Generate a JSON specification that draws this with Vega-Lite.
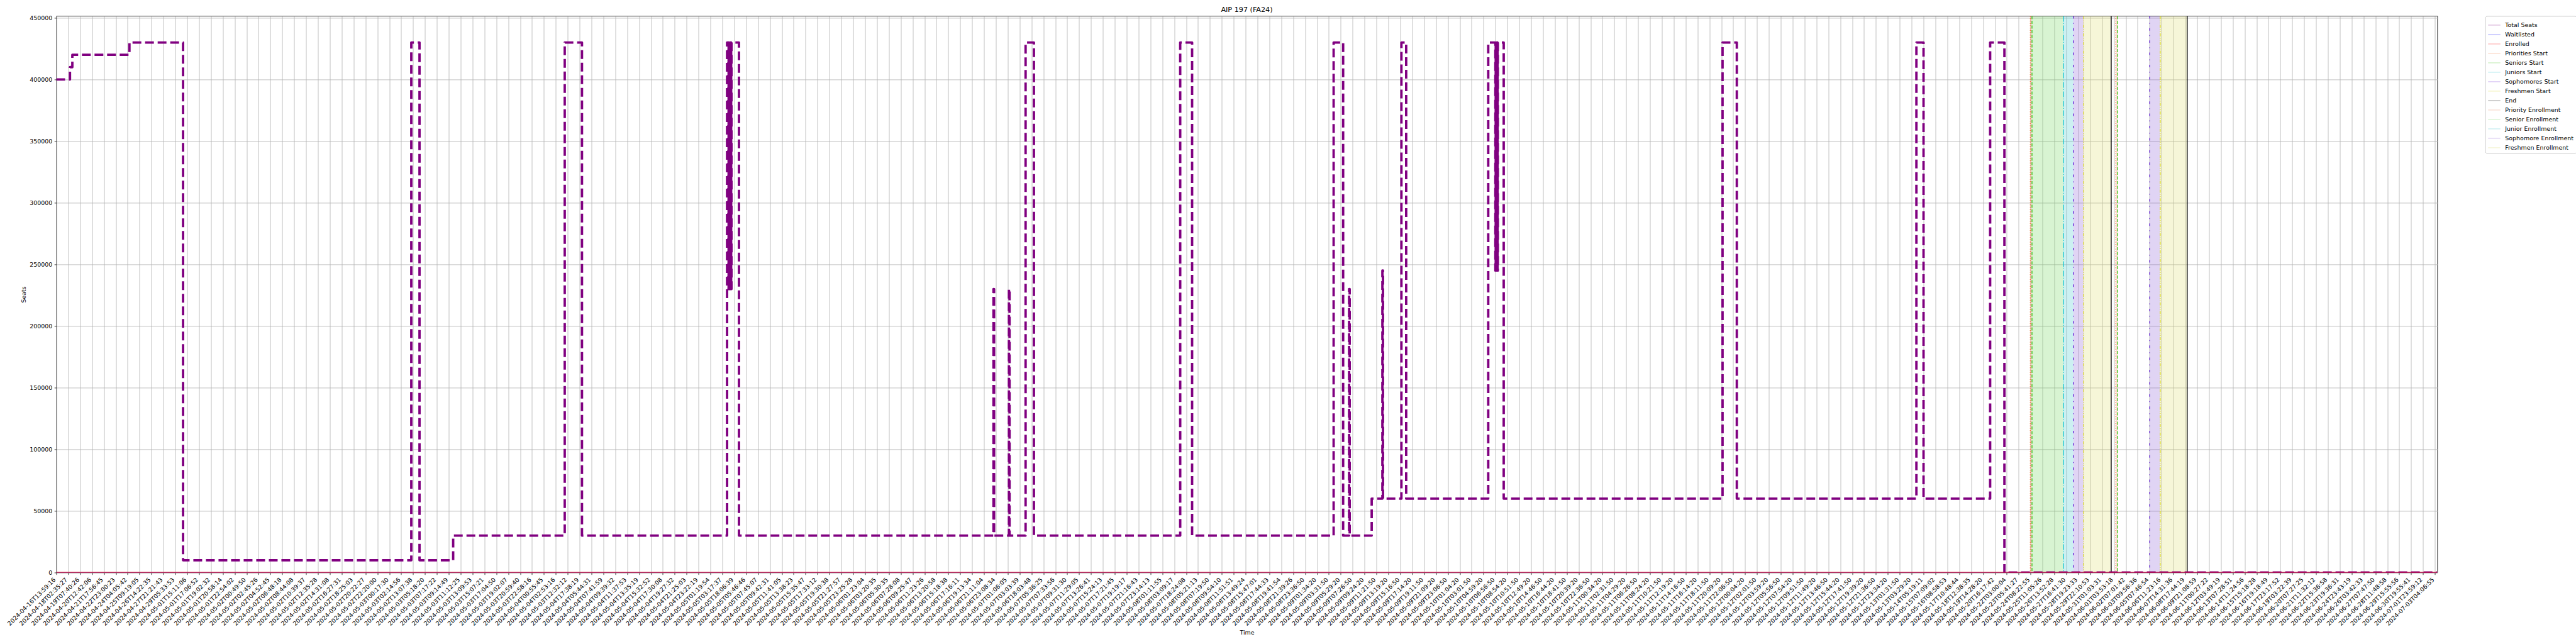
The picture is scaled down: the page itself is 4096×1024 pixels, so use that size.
{
  "$schema": "https://vega.github.io/schema/vega-lite/v6.json",
  "autosize": {"type": "none"},
  "width": 3786,
  "height": 885,
  "padding": {"left": 89.5, "top": 25.4, "right": 220.5, "bottom": 113.6},
  "background": "white",
  "title": {"text": "AIP 197 (FA24)", "fontSize": 11.2, "font": "DejaVu Sans", "fontWeight": "normal", "color": "black", "frame": "group", "anchor": "middle", "baseline": "alphabetic", "offset": -7},
  "config": {
    "font": "DejaVu Sans",
    "view": {"stroke": "black", "strokeWidth": 0.8},
    "axis": {"labelFont": "DejaVu Sans", "titleFont": "DejaVu Sans", "labelColor": "black", "titleColor": "black", "labelFontSize": 9.47, "titleFontSize": 9.47, "titleFontWeight": "normal", "tickColor": "black", "tickSize": 3.3, "tickWidth": 0.75, "domain": false, "grid": true, "gridColor": "#b0b0b0", "gridWidth": 0.8}
  },
  "datasets": {
    "seats": [
      {"i": 0, "seats": 400000}, {"i": 1.15, "seats": 410000}, {"i": 1.35, "seats": 420000}, {"i": 6.15, "seats": 430000},
      {"i": 10.66, "seats": 10000}, {"i": 29.85, "seats": 430000}, {"i": 30.54, "seats": 10000}, {"i": 33.37, "seats": 30000},
      {"i": 42.75, "seats": 430000}, {"i": 44.2, "seats": 30000},
      {"i": 56.4, "seats": 430000}, {"i": 56.5, "seats": 230000}, {"i": 56.53, "seats": 430000}, {"i": 56.56, "seats": 230000}, {"i": 56.59, "seats": 430000}, {"i": 56.62, "seats": 230000}, {"i": 56.65, "seats": 430000}, {"i": 56.68, "seats": 230000}, {"i": 56.71, "seats": 430000}, {"i": 56.74, "seats": 230000}, {"i": 56.77, "seats": 430000},
      {"i": 57.4, "seats": 30000},
      {"i": 78.8, "seats": 230000}, {"i": 78.85, "seats": 30000}, {"i": 80.1, "seats": 230000}, {"i": 80.15, "seats": 30000},
      {"i": 81.5, "seats": 430000}, {"i": 82.2, "seats": 30000}, {"i": 94.5, "seats": 430000}, {"i": 95.5, "seats": 30000},
      {"i": 107.4, "seats": 430000}, {"i": 108.2, "seats": 30000}, {"i": 108.7, "seats": 230000}, {"i": 108.75, "seats": 30000},
      {"i": 110.6, "seats": 60000}, {"i": 111.5, "seats": 245000}, {"i": 111.55, "seats": 60000}, {"i": 113.1, "seats": 430000},
      {"i": 113.5, "seats": 60000},
      {"i": 120.4, "seats": 430000}, {"i": 121.0, "seats": 245000}, {"i": 121.03, "seats": 430000}, {"i": 121.06, "seats": 245000}, {"i": 121.09, "seats": 430000}, {"i": 121.12, "seats": 245000}, {"i": 121.15, "seats": 430000}, {"i": 121.18, "seats": 245000}, {"i": 121.21, "seats": 430000},
      {"i": 121.7, "seats": 60000}, {"i": 140.1, "seats": 430000},
      {"i": 141.3, "seats": 60000}, {"i": 156.4, "seats": 430000}, {"i": 157.0, "seats": 60000}, {"i": 162.6, "seats": 430000},
      {"i": 163.8, "seats": 0}, {"i": 200.2, "seats": 0}
    ],
    "counts": [
      {"i": 0, "waitlisted": 0, "enrolled": 0},
      {"i": 200.2, "waitlisted": 0, "enrolled": 0}
    ],
    "spans": [
      {"x": 165.98, "x2": 166.12, "series": "Priority Enrollment"},
      {"x": 166.12, "x2": 168.76, "series": "Senior Enrollment"},
      {"x": 168.76, "x2": 169.6, "series": "Junior Enrollment"},
      {"x": 169.6, "x2": 170.47, "series": "Sophomore Enrollment"},
      {"x": 170.47, "x2": 172.78, "series": "Freshmen Enrollment"},
      {"x": 173.17, "x2": 173.31, "series": "Priority Enrollment"},
      {"x": 176.02, "x2": 176.9, "series": "Sophomore Enrollment"},
      {"x": 176.9, "x2": 179.17, "series": "Freshmen Enrollment"}
    ],
    "rules": [
      {"x": 165.98, "series": "Priorities Start"},
      {"x": 166.12, "series": "Seniors Start"},
      {"x": 168.76, "series": "Juniors Start"},
      {"x": 169.6, "series": "Sophomores Start"},
      {"x": 170.47, "series": "Freshmen Start"},
      {"x": 172.78, "series": "End"},
      {"x": 173.17, "series": "Priorities Start"},
      {"x": 173.31, "series": "Seniors Start"},
      {"x": 176.02, "series": "Sophomores Start"},
      {"x": 176.9, "series": "Freshmen Start"},
      {"x": 179.17, "series": "End"}
    ]
  },
  "resolve": {"scale": {"color": "shared"}},
  "encoding": {
    "x": {"type": "quantitative", "scale": {"domain": [0, 200.2], "nice": false, "zero": false},
      "axis": {"title": "Time", "titlePadding": 5,
        "values": [0,1,2,3,4,5,6,7,8,9,10,11,12,13,14,15,16,17,18,19,20,21,22,23,24,25,26,27,28,29,30,31,32,33,34,35,36,37,38,39,40,41,42,43,44,45,46,47,48,49,50,51,52,53,54,55,56,57,58,59,60,61,62,63,64,65,66,67,68,69,70,71,72,73,74,75,76,77,78,79,80,81,82,83,84,85,86,87,88,89,90,91,92,93,94,95,96,97,98,99,100,101,102,103,104,105,106,107,108,109,110,111,112,113,114,115,116,117,118,119,120,121,122,123,124,125,126,127,128,129,130,131,132,133,134,135,136,137,138,139,140,141,142,143,144,145,146,147,148,149,150,151,152,153,154,155,156,157,158,159,160,161,162,163,164,165,166,167,168,169,170,171,172,173,174,175,176,177,178,179,180,181,182,183,184,185,186,187,188,189,190,191,192,193,194,195,196,197,198,199,200],
        "labelAngle": -45, "labelAlign": "right", "labelBaseline": "top", "labelOffset": -6, "labelPadding": 3.3,
        "labelOverlap": false, "labelFlush": false, "labelBound": false, "labelLimit": 400,
        "labelExpr": "['2024-04-16T13:59:16','2024-04-18T02:35:27','2024-04-19T07:40:26','2024-04-20T12:42:06','2024-04-21T17:56:45','2024-04-22T23:00:23','2024-04-24T04:05:42','2024-04-25T09:19:05','2024-04-26T14:22:35','2024-04-27T21:21:43','2024-04-29T05:33:53','2024-05-01T15:11:06','2024-05-01T17:06:52','2024-05-01T19:02:32','2024-05-01T20:58:14','2024-05-01T22:54:02','2024-05-02T00:49:50','2024-05-02T02:45:26','2024-05-02T04:52:45','2024-05-02T06:48:18','2024-05-02T08:44:08','2024-05-02T10:39:37','2024-05-02T12:35:28','2024-05-02T14:31:08','2024-05-02T16:27:31','2024-05-02T18:25:03','2024-05-02T20:22:27','2024-05-02T22:20:00','2024-05-03T00:17:30','2024-05-03T02:14:56','2024-05-02T13:07:38','2024-05-03T05:18:20','2024-05-03T07:17:22','2024-05-03T09:14:49','2024-05-03T11:12:25','2024-05-03T13:09:53','2024-05-03T15:07:21','2024-05-03T17:04:50','2024-05-03T19:02:07','2024-05-03T20:59:40','2024-05-03T22:58:16','2024-05-04T00:55:45','2024-05-04T02:53:16','2024-05-03T12:32:12','2024-05-04T17:38:19','2024-05-04T05:44:31','2024-05-04T07:41:59','2024-05-04T09:39:32','2024-05-04T11:37:53','2024-05-04T13:35:19','2024-05-04T15:32:52','2024-05-04T17:30:08','2024-05-04T19:27:32','2024-05-04T21:25:03','2024-05-04T23:22:19','2024-05-05T01:19:54','2024-05-05T03:17:37','2024-05-05T18:06:39','2024-05-05T05:46:46','2024-05-05T07:45:07','2024-05-05T09:42:31','2024-05-05T11:41:05','2024-05-05T13:38:23','2024-05-05T15:35:47','2024-05-05T17:33:12','2024-05-05T19:30:38','2024-05-05T21:27:57','2024-05-05T23:25:28','2024-05-06T01:23:04','2024-05-06T03:20:35','2024-05-06T05:30:35','2024-05-06T07:28:08','2024-05-06T09:25:47','2024-05-06T11:23:26','2024-05-06T13:20:58','2024-05-06T15:18:38','2024-05-06T17:16:11','2024-05-06T19:13:34','2024-05-06T21:11:04','2024-05-06T23:08:34','2024-05-07T01:06:05','2024-05-07T03:03:39','2024-05-06T18:03:48','2024-05-07T05:36:25','2024-05-07T07:33:56','2024-05-07T09:31:30','2024-05-07T11:29:05','2024-05-07T13:26:41','2024-05-07T15:24:13','2024-05-07T17:21:45','2024-05-07T19:19:17','2024-05-07T21:16:43','2024-05-07T23:14:13','2024-05-08T01:11:55','2024-05-08T03:09:17','2024-05-07T18:24:08','2024-05-08T05:21:13','2024-05-08T07:19:50','2024-05-08T09:54:10','2024-05-08T11:51:51','2024-05-08T13:49:24','2024-05-08T15:47:01','2024-05-08T17:44:33','2024-05-08T19:41:54','2024-05-08T21:39:26','2024-05-08T23:36:50','2024-05-09T01:34:20','2024-05-09T03:31:50','2024-05-09T05:29:20','2024-05-09T07:26:50','2024-05-09T09:24:20','2024-05-09T11:21:50','2024-05-09T13:19:20','2024-05-09T15:16:50','2024-05-09T17:14:20','2024-05-09T19:11:50','2024-05-09T21:09:20','2024-05-09T23:06:50','2024-05-10T01:04:20','2024-05-10T03:01:50','2024-05-10T04:59:20','2024-05-10T06:56:50','2024-05-10T08:54:20','2024-05-10T10:51:50','2024-05-10T12:49:20','2024-05-10T14:46:50','2024-05-10T16:44:20','2024-05-10T18:41:50','2024-05-10T20:39:20','2024-05-10T22:36:50','2024-05-11T00:34:20','2024-05-11T02:31:50','2024-05-11T04:29:20','2024-05-11T06:26:50','2024-05-11T08:24:20','2024-05-11T10:21:50','2024-05-11T12:19:20','2024-05-11T14:16:50','2024-05-11T16:14:20','2024-05-11T18:11:50','2024-05-11T20:09:20','2024-05-11T22:06:50','2024-05-12T00:04:20','2024-05-12T02:01:50','2024-05-12T03:59:20','2024-05-12T05:56:50','2024-05-12T07:54:20','2024-05-12T09:51:50','2024-05-12T11:49:20','2024-05-12T13:46:50','2024-05-12T15:44:20','2024-05-12T17:41:50','2024-05-12T19:39:20','2024-05-12T21:36:50','2024-05-12T23:34:20','2024-05-13T01:31:50','2024-05-13T03:29:20','2024-05-14T05:19:11','2024-05-15T07:09:02','2024-05-16T08:58:53','2024-05-17T10:48:44','2024-05-18T12:38:35','2024-05-19T14:28:20','2024-05-20T16:17:42','2024-05-22T03:00:04','2024-05-23T05:41:27','2024-05-24T08:22:55','2024-05-25T11:05:26','2024-05-26T13:52:28','2024-05-27T16:41:30','2024-05-28T19:23:33','2024-05-29T22:10:53','2024-05-31T01:03:31','2024-06-01T03:53:18','2024-06-02T07:01:42','2024-06-03T09:56:36','2024-06-05T07:46:54','2024-06-06T11:23:16','2024-06-07T14:31:36','2024-06-08T17:44:19','2024-06-09T21:08:59','2024-06-11T00:27:22','2024-06-12T03:49:19','2024-06-13T07:28:51','2024-06-14T11:24:56','2024-06-15T15:18:28','2024-06-16T19:18:49','2024-06-17T23:17:52','2024-06-19T03:22:39','2024-06-20T07:27:25','2024-06-21T11:32:12','2024-06-22T15:36:58','2024-06-23T19:36:31','2024-06-24T23:43:19','2024-06-26T03:42:33','2024-06-27T07:47:50','2024-06-28T11:48:58','2024-06-29T15:55:56','2024-06-30T19:55:41','2024-07-01T23:59:12','2024-07-03T04:06:55'][datum.value]"
      }
    },
    "y": {"type": "quantitative", "scale": {"domain": [0, 451500], "nice": false, "zero": true},
      "axis": {"title": "Seats", "titlePadding": 4, "labelPadding": 3.3, "format": "d", "values": [0,50000,100000,150000,200000,250000,300000,350000,400000,450000]}
    }
  },
  "layer": [
    {
      "data": {"name": "spans"},
      "mark": {"type": "rect", "opacity": 0.25, "clip": true},
      "encoding": {
        "x": {"field": "x", "type": "quantitative"},
        "x2": {"field": "x2"},
        "y": {"datum": 0},
        "y2": {"datum": 451500},
        "color": {"field": "series", "type": "nominal",
          "scale": {
            "domain": ["Total Seats","Waitlisted","Enrolled","Priorities Start","Seniors Start","Juniors Start","Sophomores Start","Freshmen Start","End","Priority Enrollment","Senior Enrollment","Junior Enrollment","Sophomore Enrollment","Freshmen Enrollment"],
            "range": ["#800080","#0000ff","#ff0000","#f5793a","#44c922","#1cc7d0","#6c2bd9","#dede2a","#000000","#e77f53","#63d34b","#33c3cb","#8353d3","#dbdb63"]
          },
          "legend": {
            "orient": "none", "legendX": 3862, "legendY": 0, "title": null,
            "labelFontSize": 9.47, "labelFont": "DejaVu Sans", "labelColor": "black", "labelLimit": 400,
            "symbolSize": 380, "symbolType": "stroke", "symbolStrokeWidth": 1.4,
            "rowPadding": -1.8, "padding": 4, "labelOffset": 6.8,
            "strokeColor": "#cccccc", "fillColor": "white", "cornerRadius": 3,
            "encode": {"symbols": {
              "shape": {"value": {"expr": "indexof(datum.value, 'Enrollment') >= 0 ? 'M-1,-0.36H1V0.36H-1Z' : 'stroke'"}},
              "fill": {"value": {"expr": "datum.value == 'Priority Enrollment' ? '#f9dfd4' : datum.value == 'Senior Enrollment' ? '#d8f4d2' : datum.value == 'Junior Enrollment' ? '#ccf0f2' : datum.value == 'Sophomore Enrollment' ? '#e0d4f4' : datum.value == 'Freshmen Enrollment' ? '#f6f6d8' : 'transparent'"}},
              "stroke": {"value": {"expr": "datum.value == 'Total Seats' ? '#800080' : datum.value == 'Waitlisted' ? '#0000ff' : datum.value == 'Enrolled' ? '#ff0000' : datum.value == 'Priorities Start' ? '#f5793a' : datum.value == 'Seniors Start' ? '#44c922' : datum.value == 'Juniors Start' ? '#1cc7d0' : datum.value == 'Sophomores Start' ? '#6c2bd9' : datum.value == 'Freshmen Start' ? '#dede2a' : datum.value == 'Priority Enrollment' ? '#f3cdbd' : datum.value == 'Senior Enrollment' ? '#c5ecbd' : datum.value == 'Junior Enrollment' ? '#b6e8eb' : datum.value == 'Sophomore Enrollment' ? '#d2c2ef' : datum.value == 'Freshmen Enrollment' ? '#eeeec0' : '#000000'"}},
              "opacity": {"value": 1},
              "strokeWidth": {"value": {"expr": "datum.value == 'Total Seats' ? 3.8 : datum.value == 'Waitlisted' ? 1 : datum.value == 'Enrolled' ? 1.9 : datum.value == 'End' ? 1.9 : indexof(datum.value, 'Enrollment') >= 0 ? 0.7 : 1.4"}},
              "strokeDash": {"value": {"expr": "datum.value == 'Total Seats' ? [14, 6] : datum.value == 'Priorities Start' ? [1.4, 2.3] : datum.value == 'Seniors Start' ? [5.2, 2.3] : datum.value == 'Juniors Start' ? [9, 2.3, 1.4, 2.3] : datum.value == 'Sophomores Start' ? [4, 7, 1.4, 7] : datum.value == 'Freshmen Start' ? [5, 2, 1.4, 2, 1.4, 2] : [1, 0]"}}
            }}
          }
        }
      }
    },
    {
      "data": {"name": "rules"},
      "mark": {"type": "rule", "clip": true},
      "encoding": {
        "x": {"field": "x", "type": "quantitative"},
        "color": {"field": "series", "type": "nominal"},
        "strokeDash": {"field": "series", "type": "nominal", "legend": null,
          "scale": {"domain": ["Priorities Start","Seniors Start","Juniors Start","Sophomores Start","Freshmen Start","End"],
                    "range": [[1.4, 2.3], [5.2, 2.3], [9, 2.3, 1.4, 2.3], [4, 7, 1.4, 7], [5, 2, 1.4, 2, 1.4, 2], [1, 0]]}},
        "strokeWidth": {"field": "series", "type": "nominal", "legend": null,
          "scale": {"domain": ["Priorities Start","Seniors Start","Juniors Start","Sophomores Start","Freshmen Start","End"],
                    "range": [1.4, 1.4, 1.4, 1.4, 1.4, 1.9]}}
      }
    },
    {
      "data": {"name": "seats"},
      "mark": {"type": "line", "interpolate": "step-after", "strokeWidth": 3.8, "strokeDash": [14, 6], "strokeJoin": "round", "strokeCap": "butt", "clip": true},
      "encoding": {
        "x": {"field": "i", "type": "quantitative"},
        "y": {"field": "seats", "type": "quantitative"},
        "color": {"datum": "Total Seats"}
      }
    },
    {
      "data": {"name": "counts"},
      "mark": {"type": "line", "strokeWidth": 1, "clip": true},
      "encoding": {
        "x": {"field": "i", "type": "quantitative"},
        "y": {"field": "waitlisted", "type": "quantitative"},
        "color": {"datum": "Waitlisted"}
      }
    },
    {
      "data": {"name": "counts"},
      "mark": {"type": "line", "strokeWidth": 1.9, "clip": true},
      "encoding": {
        "x": {"field": "i", "type": "quantitative"},
        "y": {"field": "enrolled", "type": "quantitative"},
        "color": {"datum": "Enrolled"}
      }
    }
  ]
}
